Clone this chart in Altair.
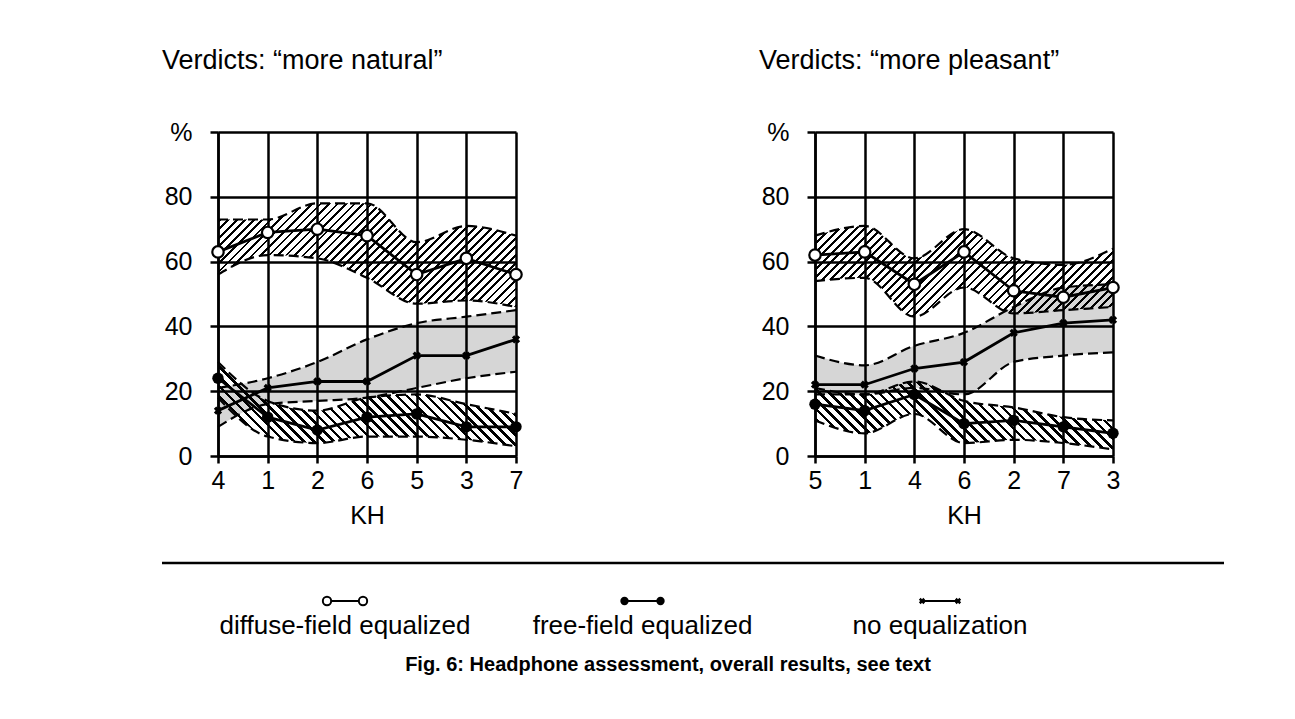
import math
import altair as alt
import pandas as pd

FONT = "Liberation Sans"
BLACK = "#000000"
CLEAR = "rgba(255,255,255,0)"

# ---------------- data ----------------
natural_kh = ["4", "1", "2", "6", "5", "3", "7"]
natural_diffuse = [63, 69, 70, 68, 56, 61, 56]
natural_diffuse_hi = [73, 73, 78, 78, 66, 71, 68]
natural_diffuse_lo = [56, 62, 61, 55, 47, 48, 46]
natural_free = [24, 12, 8, 12, 13, 9, 9]
natural_free_hi = [29, 17, 14, 18, 19, 16, 13]
natural_free_lo = [18, 6, 4, 6, 6, 5, 3]
natural_noeq = [14, 21, 23, 23, 31, 31, 36]
natural_noeq_hi = [21, 24, 29, 36, 41, 43, 45]
natural_noeq_lo = [9, 16, 17, 18, 21, 24, 26]

pleasant_kh = ["5", "1", "4", "6", "2", "7", "3"]
pleasant_diffuse = [62, 63, 53, 63, 51, 49, 52]
pleasant_diffuse_hi = [68, 71, 61, 70, 61, 59, 64]
pleasant_diffuse_lo = [54, 55, 43, 52, 44, 45, 46]
pleasant_free = [16, 14, 19, 10, 11, 9, 7]
pleasant_free_hi = [21, 19, 23, 17, 15, 12, 11]
pleasant_free_lo = [11, 7, 13, 4, 5, 4, 2]
pleasant_noeq = [22, 22, 27, 29, 38, 41, 42]
pleasant_noeq_hi = [31, 28, 34, 38, 46, 52, 53]
pleasant_noeq_lo = [19, 19, 21, 19, 29, 31, 32]

legend_labels = ["diffuse-field equalized", "free-field equalized", "no equalization"]
y_ticks = [0, 20, 40, 60, 80, 100]
caption = "Fig. 6: Headphone assessment, overall results, see text"

PW, PH = 298, 324


def stripe_fill(w, h, spacing, thick, direction):
    r = h / w
    s = (1 + r) / (1 + r * r)
    diag = (w + h) / math.sqrt(2)
    n = diag / spacing
    stops = []
    k = 0
    while k < n:
        a = k / n
        b = min((k + thick / spacing) / n, 1.0)
        stops += [
            alt.GradientStop(offset=a, color=CLEAR),
            alt.GradientStop(offset=a, color=BLACK),
            alt.GradientStop(offset=b, color=BLACK),
            alt.GradientStop(offset=b, color=CLEAR),
        ]
        k += 1
    if direction == "/":
        return alt.LinearGradient(gradient="linear", stops=stops, x1=0, y1=0, x2=s, y2=s * r)
    return alt.LinearGradient(gradient="linear", stops=stops, x1=0, y1=1, x2=s, y2=1 - s * r)


def band_px(hi, lo):
    return (max(hi) - min(lo)) * PH / 100.0


def panel(kh, d, dhi, dlo, f, fhi, flo, n, nhi, nlo, title, with_legend):
    df = pd.DataFrame({"kh": kh, "d": d, "dhi": dhi, "dlo": dlo,
                       "f": f, "fhi": fhi, "flo": flo,
                       "n": n, "nhi": nhi, "nlo": nlo})
    xaxis = alt.Axis(title="KH", labelAngle=0, labelFontSize=25, titleFontSize=25,
                     titleFontWeight="normal", labelFont=FONT, titleFont=FONT,
                     labelColor=BLACK, titleColor=BLACK, domainColor=BLACK, domainWidth=2.5,
                     tickColor=BLACK, tickWidth=2.5, tickSize=7, gridColor=BLACK,
                     gridWidth=2.5, gridOpacity=1, grid=True, labelPadding=5, titlePadding=10)
    yaxis = alt.Axis(title=None, values=y_ticks, labelFontSize=25, labelFont=FONT,
                     labelColor=BLACK, domainColor=BLACK, domainWidth=2.5, tickColor=BLACK,
                     tickWidth=2.5, tickSize=8, gridColor=BLACK, gridWidth=2.5, gridOpacity=1,
                     grid=True, labelPadding=18,
                     labelExpr="datum.value == 100 ? '%' : datum.label")
    X = alt.X("kh:O", sort=kh, scale=alt.Scale(type="point", padding=0), axis=xaxis)
    ysc = alt.Scale(domain=[0, 100], nice=False, zero=True)

    def Y(field):
        return alt.Y(f"{field}:Q", scale=ysc, axis=yaxis)

    base = alt.Chart(df).encode(x=X)
    layers = []
    # shaded bands
    layers.append(base.mark_area(interpolate="monotone",
                                 fill=stripe_fill(PW, band_px(dhi, dlo), 6.0, 2.0, "/"))
                  .encode(y=Y("dhi"), y2="dlo"))
    layers.append(base.mark_area(interpolate="monotone", fill=BLACK, fillOpacity=0.16)
                  .encode(y=Y("nhi"), y2="nlo"))
    layers.append(base.mark_area(interpolate="monotone",
                                 fill=stripe_fill(PW, band_px(fhi, flo), 7.0, 2.5, "\\"))
                  .encode(y=Y("fhi"), y2="flo"))
    # dashed band edges
    for fld in ["dhi", "dlo", "nhi", "nlo", "fhi", "flo"]:
        layers.append(base.mark_line(interpolate="monotone", color=BLACK, strokeWidth=2.2,
                                     strokeDash=[10, 5]).encode(y=Y(fld)))
    # series lines
    for fld in ["d", "n", "f"]:
        layers.append(base.mark_line(color=BLACK, strokeWidth=2.8).encode(y=Y(fld)))
    # markers
    layers.append(base.mark_point(shape="circle", filled=True, fill="white", stroke=BLACK,
                                  strokeWidth=2.2, size=130, opacity=1).encode(y=Y("d")))
    layers.append(base.mark_point(shape="circle", filled=True, color=BLACK, size=130,
                                  opacity=1).encode(y=Y("f")))
    layers.append(base.mark_point(shape="cross", angle=45, filled=True, color=BLACK, size=70,
                                  opacity=1).encode(y=Y("n")))
    plot = alt.layer(*layers)

    ttl = alt.TitleParams(text=title, anchor="start", frame="group", dx=-56, offset=45,
                          fontSize=27, fontWeight="normal", font=FONT, color=BLACK)
    if not with_legend:
        return plot.properties(width=PW, height=PH, title=ttl)

    ldf = pd.DataFrame({"label": legend_labels})
    LX = alt.X("label:N", sort=legend_labels,
               scale=alt.Scale(type="point", padding=0, range=[127, 722]), axis=None)
    lbase = alt.Chart(ldf).encode(x=LX)
    SY = 469
    leg = [
        lbase.mark_rule(color=BLACK, strokeWidth=2.2, xOffset=-18, x2Offset=18)
        .encode(x2=alt.X2("label"), y=alt.value(SY)),
        lbase.transform_filter(alt.datum.label == legend_labels[0])
        .mark_point(shape="circle", filled=True, fill="white", stroke=BLACK, strokeWidth=2,
                    size=70, opacity=1, xOffset=-18).encode(y=alt.value(SY)),
        lbase.transform_filter(alt.datum.label == legend_labels[0])
        .mark_point(shape="circle", filled=True, fill="white", stroke=BLACK, strokeWidth=2,
                    size=70, opacity=1, xOffset=18).encode(y=alt.value(SY)),
        lbase.transform_filter(alt.datum.label == legend_labels[1])
        .mark_point(shape="circle", filled=True, color=BLACK, size=70, opacity=1,
                    xOffset=-18).encode(y=alt.value(SY)),
        lbase.transform_filter(alt.datum.label == legend_labels[1])
        .mark_point(shape="circle", filled=True, color=BLACK, size=70, opacity=1,
                    xOffset=18).encode(y=alt.value(SY)),
        lbase.transform_filter(alt.datum.label == legend_labels[2])
        .mark_point(shape="cross", angle=45, filled=True, color=BLACK, size=40, opacity=1,
                    xOffset=-18).encode(y=alt.value(SY)),
        lbase.transform_filter(alt.datum.label == legend_labels[2])
        .mark_point(shape="cross", angle=45, filled=True, color=BLACK, size=40, opacity=1,
                    xOffset=18).encode(y=alt.value(SY)),
        lbase.mark_text(fontSize=26, font=FONT, color=BLACK, baseline="middle")
        .encode(text="label:N", y=alt.value(494)),
        alt.Chart(pd.DataFrame({"c": [caption]}))
        .mark_text(fontSize=20, font=FONT, fontWeight="bold", color=BLACK, baseline="middle")
        .encode(text="c:N", x=alt.value(450), y=alt.value(533)),
        alt.Chart(pd.DataFrame({"c": [caption]}))
        .mark_rule(color=BLACK, strokeWidth=2.5)
        .encode(x=alt.value(-56), x2=alt.value(1006), y=alt.value(431)),
    ]
    legend = alt.layer(*leg)
    return (alt.layer(plot, legend).resolve_scale(x="independent")
            .properties(width=PW, height=PH, title=ttl))


left = panel(natural_kh, natural_diffuse, natural_diffuse_hi, natural_diffuse_lo,
             natural_free, natural_free_hi, natural_free_lo,
             natural_noeq, natural_noeq_hi, natural_noeq_lo,
             "Verdicts: \u201cmore natural\u201d", True)
right = panel(pleasant_kh, pleasant_diffuse, pleasant_diffuse_hi, pleasant_diffuse_lo,
              pleasant_free, pleasant_free_hi, pleasant_free_lo,
              pleasant_noeq, pleasant_noeq_hi, pleasant_noeq_lo,
              "Verdicts: \u201cmore pleasant\u201d", False)

chart = (alt.hconcat(left, right, spacing=299, bounds="flush")
         .properties(padding={"left": 152, "top": 38, "right": 10, "bottom": 10})
         .configure_view(stroke=None)
         .configure(background="white"))

chart.save("out.html", embed_options={"renderer": "svg", "actions": False})
